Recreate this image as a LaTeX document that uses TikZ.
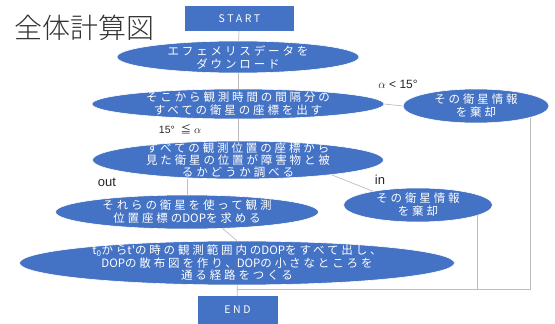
\documentclass[tikz,border=0pt]{standalone}
\usepackage{fontspec}
\setmainfont{Liberation Sans}
\newfontfamily\jp{Noto Sans CJK JP}
\newfontfamily\jpsp[LetterSpace=25]{Noto Sans CJK JP}
\newfontfamily\jplight{Noto Sans CJK JP Light}
\newcommand{\dop}{{\jp DOP}}
\usetikzlibrary{shapes.geometric}
\definecolor{boxblue}{HTML}{4472C4}
\definecolor{linegray}{HTML}{BDBDBD}
\tikzset{
  ell/.style={ellipse, fill=boxblue, draw=white, line width=0.6pt, inner sep=0pt},
  rectbox/.style={rectangle, fill=boxblue, inner sep=0pt, text=white, font=\fontsize{10.5}{12}\selectfont\jpsp},
  txt/.style={text=white, align=center, font=\fontsize{11.5}{13}\selectfont\jpsp, inner sep=0pt},
  lbl/.style={text=black!85, inner sep=0pt},
  conn/.style={draw=linegray, line width=0.7pt}
}
\begin{document}
\begin{tikzpicture}[x=1pt,y=-1pt]
\useasboundingbox (0,0) rectangle (555,324);
\node[lbl, font=\fontsize{28}{28}\selectfont\jplight, text=black!80] (title) at (85,28) {全体計算図};
\node[rectbox, minimum width=109pt, minimum height=25pt] (start) at (239.5,18.5) {START};
\node[ell, minimum width=242pt, minimum height=32pt] (e1) at (238,57) {};
\node[txt] (t1) at (e1) {エフェメリスデータを\\ダウンロード};
\node[ell, minimum width=292pt, minimum height=30pt] (e2) at (238,104) {};
\node[txt] (t2) at (e2) {そこから観測時間の間隔分の\\すべての衛星の座標を出す};
\node[ell, minimum width=146pt, minimum height=34pt] (d1) at (476,106) {};
\node[txt] (td1) at (d1) {その衛星情報\\を棄却};
\node[ell, minimum width=291pt, minimum height=38pt] (e3) at (238,160) {};
\node[txt, font=\fontsize{11.5}{12}\selectfont\jpsp] (t3) at (e3) {すべての観測位置の座標から\\見た衛星の位置が障害物と被\\るかどうか調べる};
\node[ell, minimum width=263pt, minimum height=34pt] (e4) at (187,212) {};
\node[txt] (t4) at (e4) {それらの衛星を使って観測\\位置座標の\dop を求める};
\node[ell, minimum width=149pt, minimum height=34pt] (ind) at (418,205) {};
\node[txt] (tind) at (ind) {その衛星情報\\を棄却};
\node[ell, minimum width=435pt, minimum height=44pt] (e5) at (237,263) {};
\node[txt, font=\fontsize{11.5}{12.5}\selectfont\jpsp] (t5) at (e5) {{\jp t\textsubscript{0}}から{\jp t'}の時の観測範囲内の\dop をすべて出し、\\\dop の散布図を作り、\dop の小さなところを\\通る経路をつくる};
\node[rectbox, minimum width=80pt, minimum height=28pt] (end) at (237.5,310) {END};
\node[lbl, font=\fontsize{12}{12}\selectfont] (la) at (398,84) {$\alpha$ < 15°};
\node[lbl, font=\fontsize{10.5}{10.5}\selectfont] (lb) at (180,129) {15°\ \ {\jp ≦} $\alpha$};
\node[lbl, font=\fontsize{13}{13}\selectfont] (lout) at (107,182) {out};
\node[lbl, font=\fontsize{13}{13}\selectfont] (lin) at (380,180) {in};
\coordinate (j) at (237,289);
\draw[conn] (start) -- (e1);
\draw[conn] (e1) -- (e2);
\draw[conn] (e2) -- (e3);
\draw[conn] (e2.east) -- (d1.west);
\draw[conn] (d1.-12) |- (j);
\draw[conn] (e3.south -| e4.north) -- (e4.north);
\draw[conn] (e3.-9) -- (ind.163);
\draw[conn] (ind.-10) -- (ind.-10 |- j);
\draw[conn] (e4.-25) -- (e5.north);
\draw[conn] (e5) -- (end);
\end{tikzpicture}
\end{document}
